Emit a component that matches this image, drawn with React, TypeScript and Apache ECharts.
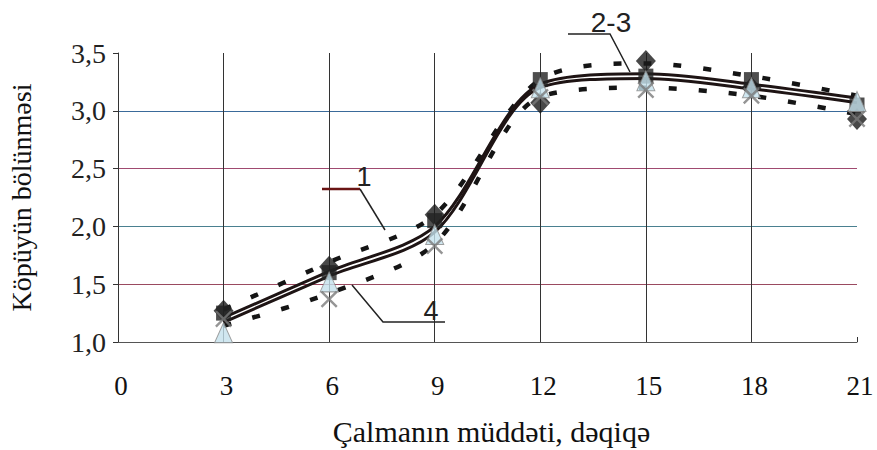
import React, { useEffect, useRef } from 'react';
import * as echarts from 'echarts';

const times = [3, 6, 9, 12, 15, 18, 21];
const yTickLabels = ['1,0', '1,5', '2,0', '2,5', '3,0', '3,5'];
const xTickLabels = ['0', '3', '6', '9', '12', '15', '18', '21'];

// curves
const curve1 = [1.28, 1.69, 2.1, 3.27, 3.41, 3.3, 3.13]; // dashed, upper
const curve2 = [1.21, 1.61, 2.0, 3.23, 3.32, 3.23, 3.11]; // solid
const curve3 = [1.17, 1.57, 1.95, 3.2, 3.28, 3.19, 3.07]; // solid
const curve4 = [1.14, 1.42, 1.85, 3.12, 3.2, 3.13, 2.97]; // dashed, lower

// markers
const marks1 = [1.27, 1.65, 2.1, 3.07, 3.43, 3.2, 2.93]; // diamond
const marks2 = [1.25, 1.6, 2.05, 3.27, 3.3, 3.27, 3.05]; // square
const marks3 = [1.08, 1.52, 1.93, 3.2, 3.26, 3.2, 3.08]; // triangle
const marks4 = [1.2, 1.37, 1.83, 3.12, 3.18, 3.13, 2.93]; // cross

const pair = (ys: number[]) => times.map((t, i) => [t, ys[i]]);

const CROSS = 'path://M0,1L1,0L5,4L9,0L10,1L6,5L10,9L9,10L5,6L1,10L0,9L4,5Z';

export default function App() {
  const ref = useRef<HTMLDivElement>(null);
  useEffect(() => {
    if (!ref.current) return;
    const chart = echarts.init(ref.current, null, { renderer: 'svg' });
    const serif = 'Liberation Serif';
    const sans = 'Liberation Sans';
    const lineSeries = (data: number[], dashed: boolean, z: number) => ({
      type: 'line',
      data: pair(data),
      smooth: 0.3,
      showSymbol: false,
      symbol: 'none',
      z,
      lineStyle: dashed
        ? { color: '#151515', width: 4.5, type: [8, 22] }
        : { color: '#1e1414', width: 3 },
    });
    chart.setOption({
      animation: false,
      backgroundColor: '#ffffff',
      grid: { left: 118, right: 20, top: 53, bottom: 108, outerBoundsMode: 'none', containLabel: false },
      xAxis: {
        type: 'value',
        min: 0,
        max: 21,
        interval: 3,
        name: 'Çalmanın müddəti, dəqiqə',
        nameLocation: 'middle',
        nameGap: 74,
        nameTextStyle: { fontFamily: serif, fontSize: 30, color: '#111', padding: [0, 0, 0, 8] },
        axisLine: { show: true, lineStyle: { color: '#555', width: 1 } },
        axisTick: { show: true, inside: true, length: 5, lineStyle: { color: '#333' } },
        axisLabel: {
          fontFamily: serif,
          fontSize: 27,
          color: '#111',
          margin: 30,
          padding: [0, 0, 0, 6],
          formatter: (v: number) => xTickLabels[Math.round(v / 3)] ?? String(v),
        },
        splitLine: {
          show: true,
          lineStyle: {
            color: ['transparent', '#333', '#333', '#333', '#333', '#333', '#333', 'transparent'],
            width: 1,
          },
        },
      },
      yAxis: {
        type: 'value',
        min: 1,
        max: 3.5,
        interval: 0.5,
        name: 'Köpüyün bölünməsi',
        nameLocation: 'middle',
        nameGap: 73,
        nameTextStyle: { fontFamily: serif, fontSize: 28, color: '#111', padding: [0, 0, 10, 0] },
        axisLine: { show: true, lineStyle: { color: '#333', width: 1 } },
        axisTick: { show: true, inside: false, length: 5, lineStyle: { color: '#333' } },
        axisLabel: {
          fontFamily: serif,
          fontSize: 28,
          color: '#222',
          margin: 12,
          formatter: (v: number) => yTickLabels[Math.round((v - 1) / 0.5)] ?? String(v),
        },
        splitLine: {
          show: true,
          lineStyle: {
            color: ['transparent', '#9a4a60', '#4a8090', '#a04a70', '#3a6a9a', 'transparent'],
            width: 1,
          },
        },
      },
      series: [
        lineSeries(curve1, true, 3),
        lineSeries(curve2, false, 3),
        lineSeries(curve3, false, 3),
        lineSeries(curve4, true, 3),
        {
          type: 'scatter',
          data: pair(marks1),
          symbol: 'diamond',
          symbolSize: [20, 22],
          z: 4,
          itemStyle: { color: '#1a1a1a' },
        },
        {
          type: 'scatter',
          data: pair(marks2),
          symbol: 'rect',
          symbolSize: 15,
          z: 4,
          itemStyle: { color: '#222' },
        },
        {
          type: 'scatter',
          data: pair(marks3),
          symbol: 'triangle',
          symbolSize: [18, 20],
          z: 5,
          itemStyle: { color: '#c4e1ec', borderColor: '#8a8a8a', borderWidth: 1 },
        },
        {
          type: 'scatter',
          data: pair(marks4),
          symbol: CROSS,
          symbolSize: 17,
          z: 6,
          itemStyle: { color: '#7a7a7a' },
        },
      ],
      graphic: [
        {
          type: 'polyline',
          shape: { points: [[322, 189], [360, 189]] },
          style: { stroke: '#6a1414', lineWidth: 2.5, fill: 'none' },
          z: 10,
        },
        {
          type: 'polyline',
          shape: { points: [[360, 189], [385, 230]] },
          style: { stroke: '#222', lineWidth: 1.5, fill: 'none' },
          z: 10,
        },
        {
          type: 'text',
          x: 364,
          y: 177,
          style: { text: '1', fontFamily: sans, fontSize: 27, fill: '#222', align: 'center', verticalAlign: 'middle' },
          z: 10,
        },
        {
          type: 'polyline',
          shape: { points: [[568, 34], [610, 34], [630, 72]] },
          style: { stroke: '#222', lineWidth: 1.5, fill: 'none' },
          z: 10,
        },
        {
          type: 'text',
          x: 611,
          y: 22,
          style: { text: '2-3', fontFamily: sans, fontSize: 28, fill: '#222', align: 'center', verticalAlign: 'middle' },
          z: 10,
        },
        {
          type: 'polyline',
          shape: { points: [[445, 322], [383, 322], [352, 285]] },
          style: { stroke: '#222', lineWidth: 1.5, fill: 'none' },
          z: 10,
        },
        {
          type: 'text',
          x: 431,
          y: 311,
          style: { text: '4', fontFamily: sans, fontSize: 27, fill: '#222', align: 'center', verticalAlign: 'middle' },
          z: 10,
        },
      ],
    });
    return () => chart.dispose();
  }, []);
  return (
    <div style={{ position: 'fixed', left: 0, top: 0, width: 877, height: 450, background: '#fff' }}>
      <div ref={ref} style={{ width: 877, height: 450 }} />
    </div>
  );
}
